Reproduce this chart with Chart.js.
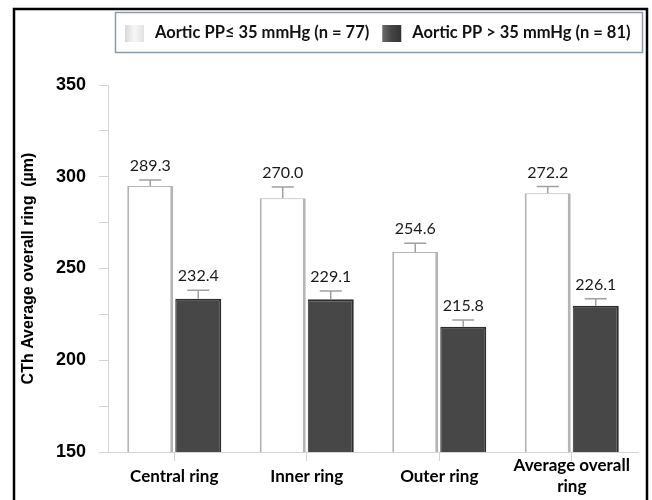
<!DOCTYPE html>
<html>
<head>
<meta charset="utf-8">
<script src="https://cdn.jsdelivr.net/npm/chart.js@4.4.1/dist/chart.umd.min.js"></script>
<style>
  html, body { margin: 0; padding: 0; background: #fff; }
</style>
</head>
<body>
<canvas id="cthChart" width="652" height="500"></canvas>
<script>
// values
const categories = ['Central ring', 'Inner ring', 'Outer ring', ['Average overall', 'ring']];
const lowPPBars = [294.9, 288.3, 259.0, 291.0];
const lowPPErr = [298.2, 294.4, 263.8, 294.7];
const lowPPLabels = ['289.3', '270.0', '254.6', '272.2'];
const highPPBars = [233.5, 233.2, 218.3, 229.7];
const highPPErr = [238.2, 237.8, 221.9, 233.5];
const highPPLabels = ['232.4', '229.1', '215.8', '226.1'];
const yMin = 150, yMax = 350, yStep = 25, yLabelStep = 50;

// error bars + value labels above each bar
const errorBarPlugin = {
    id: 'errorBars',
    afterDatasetsDraw(chart) {
        const ctx = chart.ctx;
        const yScale = chart.scales.y;
        chart.data.datasets.forEach((ds, i) => {
            const meta = chart.getDatasetMeta(i);
            meta.data.forEach((bar, j) => {
                const errY = yScale.getPixelForValue(ds.errHigh[j]);
                ctx.save();
                ctx.strokeStyle = '#a0a0a0';
                ctx.lineWidth = 1.5;
                ctx.beginPath();
                ctx.moveTo(bar.x, bar.y);
                ctx.lineTo(bar.x, errY);
                ctx.moveTo(bar.x - 11, errY);
                ctx.lineTo(bar.x + 11, errY);
                ctx.stroke();
                ctx.fillStyle = '#1a1a1a';
                ctx.font = '16px Lato';
                ctx.textAlign = 'center';
                ctx.textBaseline = 'middle';
                ctx.fillText(ds.valueLabels[j], bar.x, errY - 14);
                ctx.restore();
            });
        });
    }
};

// boxed legend and outer frame
const frameLegendPlugin = {
    id: 'frameLegend',
    afterDraw(chart) {
        const ctx = chart.ctx;
        ctx.save();
        ctx.strokeStyle = '#000';
        ctx.lineWidth = 2.5;
        ctx.strokeRect(14, 9, 633, 500);

        ctx.strokeStyle = '#8a98b0';
        ctx.lineWidth = 1.5;
        ctx.strokeRect(115.5, 12.5, 527, 40);

        ctx.font = 'bold 16.5px Lato';
        ctx.textBaseline = 'middle';
        ctx.textAlign = 'left';
        let x = 125;
        const y = 33;
        chart.data.datasets.forEach((ds, i) => {
            const g = ctx.createLinearGradient(x, 0, x + 19, 0);
            if (i === 0) {
                g.addColorStop(0, '#d8d8d8');
                g.addColorStop(0.5, '#f7f7f7');
                g.addColorStop(1, '#e2e2e2');
            } else {
                g.addColorStop(0, '#6a6a6a');
                g.addColorStop(0.5, '#444');
                g.addColorStop(1, '#333');
            }
            ctx.fillStyle = g;
            ctx.fillRect(x, y - 8, 19, 17);
            x += 19 + 11;
            ctx.fillStyle = '#111';
            ctx.fillText(ds.label, x, y);
            x += ctx.measureText(ds.label).width + 13;
        });
        ctx.restore();
    }
};

const ctx = document.getElementById('cthChart').getContext('2d');
new Chart(ctx, {
    type: 'bar',
    data: {
        labels: categories,
        datasets: [{
            label: 'Aortic PP\u2264 35 mmHg (n = 77)',
            data: lowPPBars,
            errHigh: lowPPErr,
            valueLabels: lowPPLabels,
            backgroundColor: '#ffffff',
            borderColor: '#b4b4b4',
            borderWidth: { left: 2, right: 3, top: 1, bottom: 3 },
            borderSkipped: false,
        }, {
            label: 'Aortic PP > 35 mmHg (n = 81)',
            data: highPPBars,
            errHigh: highPPErr,
            valueLabels: highPPLabels,
            backgroundColor: '#474747',
            borderColor: '#2e2e2e',
            borderWidth: { left: 1, right: 2, top: 2, bottom: 3 },
            borderSkipped: false,
        }]
    },
    options: {
        responsive: false,
        animation: false,
        categoryPercentage: 0.725,
        barPercentage: 0.958,
        layout: { padding: { left: 19, right: 14, top: 85, bottom: 0 } },
        plugins: {
            legend: { display: false },
            tooltip: { enabled: false }
        },
        scales: {
            x: {
                grid: { drawOnChartArea: false, offset: false, tickLength: 9, color: '#d4d4d4' },
                border: { color: '#d4d4d4' },
                ticks: {
                    color: '#000',
                    font: { family: 'Lato', weight: 'bold', size: 17, lineHeight: 1.18 },
                    padding: 5,
                    crossAlign: 'center',
                    maxRotation: 0,
                    autoSkip: false
                },
                afterFit(scale) { scale.height = 48; }
            },
            y: {
                min: yMin,
                max: yMax,
                grid: { drawOnChartArea: false, tickLength: 9, color: '#d4d4d4' },
                border: { color: '#d4d4d4' },
                ticks: {
                    stepSize: yStep,
                    color: '#000',
                    padding: 13,
                    font: { family: 'Liberation Sans', weight: 'bold', size: 18 },
                    callback: v => (v % yLabelStep === 0 ? v : '')
                },
                title: {
                    display: true,
                    text: 'CTh Average overall ring  (\u00b5m)',
                    color: '#000',
                    font: { family: 'Liberation Sans', weight: 'bold', size: 16 },
                    padding: { top: 0, bottom: 0 }
                },
                afterFit(scale) { scale.width = 89; }
            }
        }
    },
    plugins: [errorBarPlugin, frameLegendPlugin]
});
</script>
</body>
</html>
